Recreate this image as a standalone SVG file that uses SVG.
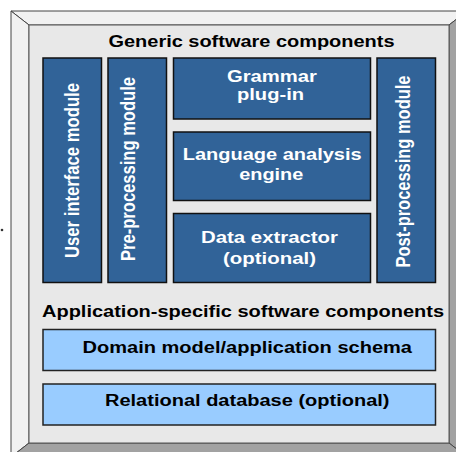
<svg xmlns="http://www.w3.org/2000/svg" width="456" height="452" viewBox="0 0 456 452">
<style>
.lt{fill:#f1f1f1;stroke:#444;stroke-width:1}
.dk{fill:#a2a2a2;stroke:#444;stroke-width:1}
.face{fill:#e8e8e8;stroke:#555;stroke-width:1}
.db rect{fill:#316398;stroke:#111;stroke-width:1.5}
.lb rect{fill:#99ccff;stroke:#222;stroke-width:1.5}
text{font-family:"Liberation Sans",Arial,sans-serif;font-weight:bold;font-size:16px}
.db text{fill:#ffffff}
.hd{fill:#000000}
.lb text{fill:#000000}
</style>
<circle cx="2" cy="230" r="1.3" fill="#333"/>
<g id="frame">
<polygon class="lt" points="11,11 467,11 449,25 29,25"/>
<polygon class="lt" points="11,11 29,25 29,443 11,457"/>
<polygon class="dk" points="467,11 467,457 449,443 449,25"/>
<polygon class="dk" points="11,457 29,443 449,443 467,457"/>
<rect class="face" x="29" y="25" width="420" height="418"/>
</g>
<g id="title-generic">
<text class="hd" x="108.5" y="47" textLength="286" lengthAdjust="spacingAndGlyphs">Generic software components</text>
</g>
<g id="user-interface" class="db">
<rect x="43" y="58" width="58.5" height="224.5"/>
<text transform="translate(79,258) scale(1.25,1) rotate(-90)" font-size="16.5" textLength="175" lengthAdjust="spacingAndGlyphs">User interface module</text>
</g>
<g id="pre-processing" class="db">
<rect x="108" y="58" width="58.5" height="224.5"/>
<text transform="translate(135,261) scale(1.25,1) rotate(-90)" font-size="16.5" textLength="184" lengthAdjust="spacingAndGlyphs">Pre-processing module</text>
</g>
<g id="grammar" class="db">
<rect x="173.5" y="58" width="197" height="61"/>
<text x="227" y="82" textLength="90" lengthAdjust="spacingAndGlyphs">Grammar</text>
<text x="237" y="100" textLength="67" lengthAdjust="spacingAndGlyphs">plug-in</text>
</g>
<g id="language-engine" class="db">
<rect x="173.5" y="132" width="197" height="68.5"/>
<text x="182.7" y="160" textLength="179" lengthAdjust="spacingAndGlyphs">Language analysis</text>
<text x="239.3" y="180" textLength="64" lengthAdjust="spacingAndGlyphs">engine</text>
</g>
<g id="data-extractor" class="db">
<rect x="173.5" y="213.5" width="197" height="69"/>
<text x="201" y="243" textLength="137" lengthAdjust="spacingAndGlyphs">Data extractor</text>
<text x="223" y="264" textLength="93" lengthAdjust="spacingAndGlyphs">(optional)</text>
</g>
<g id="post-processing" class="db">
<rect x="377" y="58" width="58.5" height="224.5"/>
<text transform="translate(410,267.5) scale(1.25,1) rotate(-90)" font-size="16.5" textLength="192" lengthAdjust="spacingAndGlyphs">Post-processing module</text>
</g>
<g id="title-application">
<text class="hd" x="42" y="317" textLength="402" lengthAdjust="spacingAndGlyphs">Application-specific software components</text>
</g>
<g id="domain-model" class="lb">
<rect x="43" y="329.5" width="392.5" height="41"/>
<text x="82.5" y="352.7" textLength="329.5" lengthAdjust="spacingAndGlyphs">Domain model/application schema</text>
</g>
<g id="relational-db" class="lb">
<rect x="43" y="384" width="392.5" height="41"/>
<text x="105" y="406" textLength="284.5" lengthAdjust="spacingAndGlyphs">Relational database (optional)</text>
</g>
<g id="connectors"></g>
</svg>
